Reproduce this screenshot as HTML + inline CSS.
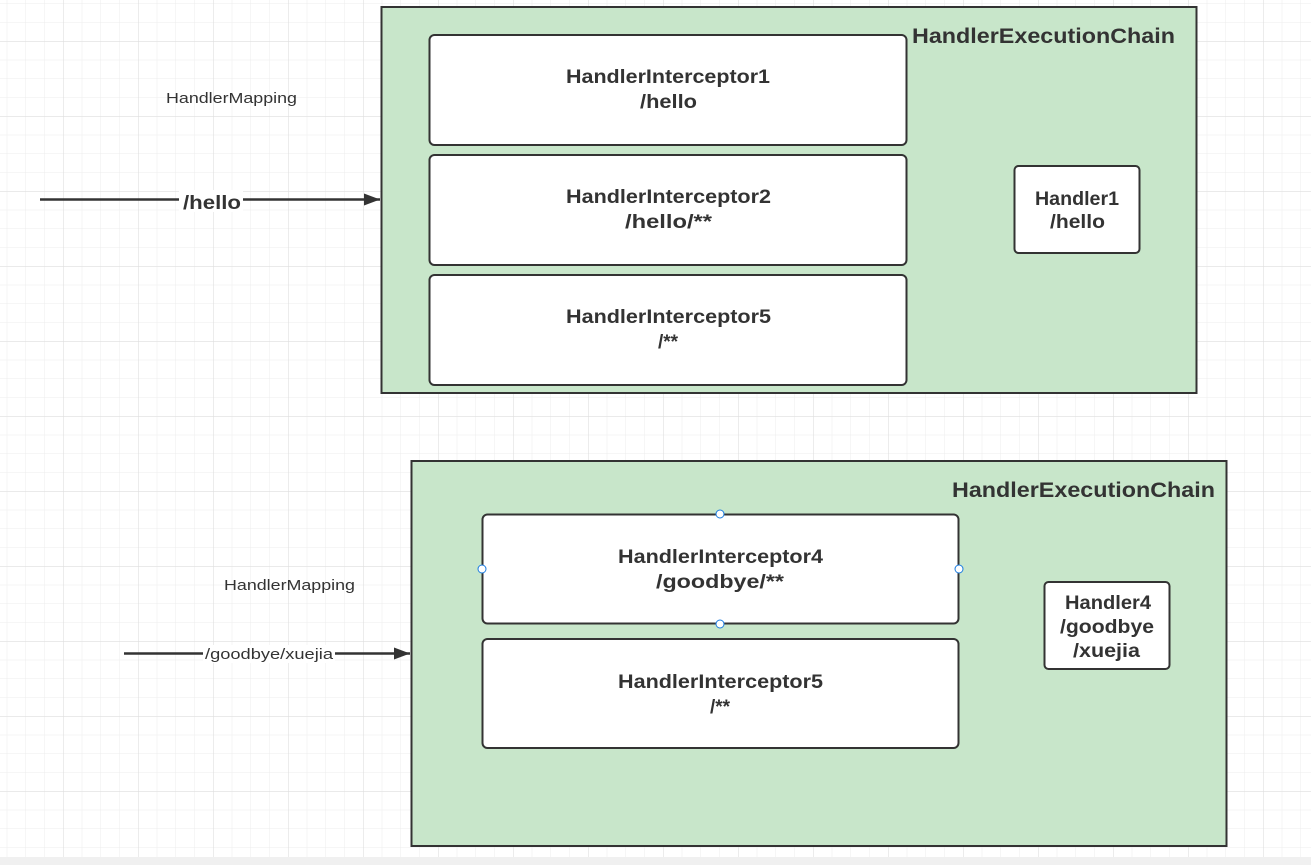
<!DOCTYPE html>
<html><head><style>
html,body{margin:0;padding:0;background:#fff}
svg{display:block}
text{font-family:"Liberation Sans",sans-serif;fill:#333}
.b{font-weight:bold;font-size:19px}
</style></head><body>
<svg width="1311" height="865" xmlns="http://www.w3.org/2000/svg">
<defs>
<pattern id="minor" x="6.75" y="3.5" width="18.75" height="18.75" patternUnits="userSpaceOnUse">
<path d="M0 0V18.75M0 0H18.75" stroke="#ececec" stroke-width="1" fill="none"/>
</pattern>
<pattern id="major" x="63" y="41" width="75" height="75" patternUnits="userSpaceOnUse">
<path d="M0 0V75M0 0H75" stroke="#dedede" stroke-width="1.2" fill="none"/>
</pattern>
<marker id="ar" markerWidth="16" markerHeight="12" refX="16" refY="6" orient="auto" markerUnits="userSpaceOnUse">
<path d="M0 0L16 6L0 12Z" fill="#333"/>
</marker>
</defs>
<rect width="1311" height="865" fill="url(#minor)"/>
<rect width="1311" height="865" fill="url(#major)"/>
<rect x="0" y="857" width="1311" height="8" fill="#f0f0f0"/>

<rect x="381.5" y="7" width="815" height="386" fill="#c8e6ca" stroke="#333" stroke-width="2"/>
<text x="912" y="43" class="b" style="font-size:21px" textLength="263" lengthAdjust="spacingAndGlyphs">HandlerExecutionChain</text>
<rect x="429.5" y="35" width="477" height="110" rx="5" fill="#fff" stroke="#333" stroke-width="2"/>
<text x="566" y="83" class="b" textLength="204" lengthAdjust="spacingAndGlyphs">HandlerInterceptor1</text>
<text x="640" y="108" class="b" textLength="57" lengthAdjust="spacingAndGlyphs">/hello</text>
<rect x="429.5" y="155" width="477" height="110" rx="5" fill="#fff" stroke="#333" stroke-width="2"/>
<text x="566" y="203" class="b" textLength="205" lengthAdjust="spacingAndGlyphs">HandlerInterceptor2</text>
<text x="625" y="228" class="b" textLength="87" lengthAdjust="spacingAndGlyphs">/hello/**</text>
<rect x="429.5" y="275" width="477" height="110" rx="5" fill="#fff" stroke="#333" stroke-width="2"/>
<text x="566" y="323" class="b" textLength="205" lengthAdjust="spacingAndGlyphs">HandlerInterceptor5</text>
<text x="668" y="348" text-anchor="middle" class="b">/**</text>
<rect x="1014.5" y="166" width="125" height="87" rx="4" fill="#fff" stroke="#333" stroke-width="2"/>
<text x="1035" y="205" class="b" textLength="84" lengthAdjust="spacingAndGlyphs">Handler1</text>
<text x="1050" y="228" class="b" textLength="55" lengthAdjust="spacingAndGlyphs">/hello</text>

<text x="166" y="103" style="font-size:15px" textLength="131" lengthAdjust="spacingAndGlyphs">HandlerMapping</text>
<line x1="40" y1="199.5" x2="380" y2="199.5" stroke="#333" stroke-width="2.5" marker-end="url(#ar)"/>
<rect x="179" y="190" width="64" height="22" fill="#fff"/>
<text x="183" y="209" class="b" textLength="58" lengthAdjust="spacingAndGlyphs">/hello</text>

<rect x="411.5" y="461" width="815" height="385" fill="#c8e6ca" stroke="#333" stroke-width="2"/>
<text x="952" y="497" class="b" style="font-size:21px" textLength="263" lengthAdjust="spacingAndGlyphs">HandlerExecutionChain</text>
<rect x="482.5" y="514.5" width="476" height="109" rx="5" fill="#fff" stroke="#333" stroke-width="2"/>
<text x="618" y="563" class="b" textLength="205" lengthAdjust="spacingAndGlyphs">HandlerInterceptor4</text>
<text x="656" y="588" class="b" textLength="128" lengthAdjust="spacingAndGlyphs">/goodbye/**</text>
<g fill="#fff" stroke="#1a7be0" stroke-width="1">
<circle cx="720" cy="514" r="4"/><circle cx="720" cy="624" r="4"/>
<circle cx="482" cy="569" r="4"/><circle cx="959" cy="569" r="4"/>
</g>
<rect x="482.5" y="639" width="476" height="109" rx="5" fill="#fff" stroke="#333" stroke-width="2"/>
<text x="618" y="688" class="b" textLength="205" lengthAdjust="spacingAndGlyphs">HandlerInterceptor5</text>
<text x="720" y="713" text-anchor="middle" class="b">/**</text>
<rect x="1044.5" y="582" width="125" height="87" rx="4" fill="#fff" stroke="#333" stroke-width="2"/>
<text x="1065" y="609" class="b" textLength="86" lengthAdjust="spacingAndGlyphs">Handler4</text>
<text x="1060" y="633" class="b" textLength="94" lengthAdjust="spacingAndGlyphs">/goodbye</text>
<text x="1073" y="657" class="b" textLength="67" lengthAdjust="spacingAndGlyphs">/xuejia</text>

<text x="224" y="590" style="font-size:15px" textLength="131" lengthAdjust="spacingAndGlyphs">HandlerMapping</text>
<line x1="124" y1="653.5" x2="410" y2="653.5" stroke="#333" stroke-width="2.5" marker-end="url(#ar)"/>
<rect x="203" y="645" width="132" height="18" fill="#fff"/>
<text x="205" y="659" style="font-size:15px" textLength="128" lengthAdjust="spacingAndGlyphs">/goodbye/xuejia</text>
</svg>
</body></html>
